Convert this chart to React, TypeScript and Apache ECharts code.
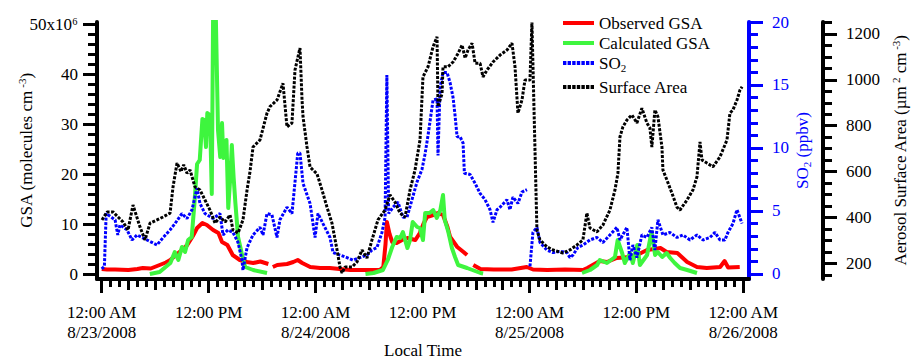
import React, { useEffect, useRef } from 'react';
import * as echarts from 'echarts';

// ---------- data (x = hours since 8/23/2008 00:00 local time) ----------
const xTickHours = [0, 12, 24, 36, 48, 60, 72];
const xTickLabels = [
  '12:00 AM\n8/23/2008', '12:00 PM', '12:00 AM\n8/24/2008', '12:00 PM',
  '12:00 AM\n8/25/2008', '12:00 PM', '12:00 AM\n8/26/2008',
];
const gsaTicks = [0, 10, 20, 30, 40, 50];
const gsaTickLabels = ['0', '10', '20', '30', '40', '50x10⁶'];
const so2Ticks = [0, 5, 10, 15, 20];
const areaTicks = [200, 400, 600, 800, 1000, 1200];

// Observed GSA (10^6 molecules cm^-3)
const observedGSA: [number, number | null][] = [
  [0.0, 1.0], [0.6, 0.9], [1.5, 0.9], [3.0, 0.8], [4.0, 1.0], [4.6, 1.2], [5.5, 1.1], [6.5, 1.8],
  [7.2, 2.3], [7.7, 2.8], [8.2, 3.6], [9.0, 4.8], [9.6, 5.8], [10.2, 7.5], [10.7, 9.2], [11.3, 10.2],
  [11.8, 9.8], [12.5, 8.8], [13.1, 8.2], [13.5, 6.4], [14.1, 5.8], [14.7, 3.8], [15.5, 2.8], [16.3, 2.4],
  [17.0, 2.2], [17.8, 2.5], [18.7, 2.0], [18.9, null], [19.2, 1.4], [19.7, 1.8], [20.8, 2.0], [21.5, 2.4],
  [22.0, 2.8], [22.5, 2.2], [23.4, 1.4], [24.5, 1.2], [25.6, 1.2], [26.7, 1.0], [27.9, 0.8], [29.0, 0.8],
  [30.3, 0.8], [31.2, 0.8], [31.6, 1.4], [31.85, 6.0], [32.0, 10.4], [32.3, 8.0], [32.6, 6.4], [33.1, 6.2],
  [33.7, 6.8], [34.3, 7.2], [35.2, 6.8], [35.7, 8.2], [36.1, 10.0], [36.5, 11.4], [37.2, 11.8], [37.7, 12.2],
  [38.3, 11.8], [38.8, 9.4], [39.1, 7.4], [39.9, 5.4], [40.6, 4.4], [41.0, 3.8], [41.3, null], [41.7, 1.8],
  [42.5, 1.0], [44.0, 0.9], [46.0, 0.9], [47.7, 1.4], [48.4, 0.9], [50.0, 0.8], [52.0, 0.9], [54.0, 0.8],
  [54.5, 1.2], [55.1, 1.8], [55.9, 2.6], [56.7, 2.4], [57.8, 3.2], [59.3, 3.4], [60.3, 4.0], [61.2, 4.8],
  [62.0, 5.0], [62.7, 5.2], [63.4, 4.4], [64.6, 4.2], [65.7, 2.4], [66.8, 1.4], [67.9, 1.2], [69.4, 1.4],
  [69.9, 2.6], [70.3, 1.3], [71.6, 1.4],
];

// Calculated GSA (10^6 molecules cm^-3)
const calculatedGSA: [number, number | null][] = [
  [5.4, 0.0], [6.5, 0.4], [7.7, 2.2], [8.2, 4.4], [8.6, 2.8], [9.0, 5.4], [9.35, 4.4], [9.7, 6.8],
  [10.1, 7.4], [10.4, 14.0], [10.7, 22.0], [11.0, 22.8], [11.3, 31.0], [11.5, 30.8], [11.7, 25.4], [11.85, 32.2],
  [12.15, 31.8], [12.35, 16.0], [12.5, 52.0], [12.8, 52.0], [13.05, 28.8], [13.3, 23.4], [13.5, 30.2], [13.65, 23.2],
  [14.0, 26.8], [14.2, 13.2], [14.45, 20.0], [14.6, 25.8], [14.8, 19.4], [15.0, 14.2], [15.3, 7.4], [15.7, 4.2],
  [16.1, 1.4], [17.0, 0.8], [18.55, 0.2], [19.0, null],
  [29.6, 0.0], [30.5, 0.2], [31.56, 0.8], [32.1, 2.8], [32.6, 5.4], [33.1, 7.4], [33.5, 7.2], [33.8, 8.4],
  [34.3, 5.2], [34.6, 6.8], [34.9, 10.4], [35.4, 9.4], [35.7, 9.2], [36.05, 6.8], [36.3, 12.2], [36.8, 12.2],
  [37.2, 12.8], [37.6, 11.2], [38.0, 12.8], [38.3, 15.8], [38.5, 10.8], [38.9, 8.4], [39.3, 5.2], [39.65, 3.4],
  [40.0, 1.8], [41.0, 1.2], [42.5, 0.2], [42.8, 0.1], [43.0, null],
  [53.9, 0.2], [54.8, 0.8], [55.6, 1.8], [55.9, 2.8], [56.7, 2.2], [57.6, 3.4], [57.9, 6.8], [58.4, 4.2],
  [58.7, 2.2], [59.3, 4.2], [59.6, 2.2], [60.1, 5.8], [60.4, 1.8], [61.2, 3.8], [61.7, 8.4], [62.1, 3.8],
  [62.4, 4.4], [62.9, 3.4], [63.4, 4.2], [63.8, 3.2], [64.3, 2.2], [64.9, 1.2], [65.7, 0.8], [66.8, 0.2],
];

// SO2 (ppbv)
const so2: [number, number | null][] = [
  [0.0, 0.4], [0.3, 0.6], [0.5, 4.8], [0.9, 4.6], [1.5, 4.3], [1.8, 3.1], [2.05, 3.9], [2.84, 3.5],
  [3.4, 2.7], [3.96, 3.1], [5.08, 2.7], [6.2, 2.3], [6.9, 2.9], [7.67, 3.5], [8.22, 4.0], [9.0, 4.8],
  [9.57, 4.4], [10.13, 5.1], [10.69, 6.8], [11.03, 5.6], [11.59, 4.8], [12.49, 4.4], [13.27, 4.8], [13.61, 3.1],
  [14.17, 3.5], [14.73, 3.3], [15.3, 2.5], [15.74, 1.1], [15.85, 0.3], [16.31, 2.1], [16.98, 3.1], [17.76, 3.7],
  [18.1, 3.1], [18.55, 4.8], [19.1, 4.7], [19.67, 2.9], [20.0, 4.3], [20.79, 5.3], [21.35, 4.8], [21.8, 8.1],
  [22.0, 9.6], [22.25, 9.6], [22.59, 7.2], [23.38, 5.6], [23.94, 2.9], [24.27, 4.8], [24.83, 4.0], [25.62, 2.9],
  [25.96, 1.7], [26.74, 1.5], [27.53, 1.3], [28.2, 1.1], [28.99, 1.3], [29.77, 1.5], [30.33, 1.9], [30.89, 2.1],
  [31.45, 3.3], [31.8, 4.5], [32.0, 15.8], [32.2, 4.8], [32.69, 5.3], [33.25, 5.7], [33.81, 4.5], [34.26, 4.5],
  [34.82, 5.9], [35.38, 7.3], [35.94, 8.3], [36.28, 9.5], [36.62, 11.0], [37.18, 13.8], [37.63, 13.9], [37.74, 9.4],
  [37.97, 14.8], [38.3, 16.0], [38.75, 16.0], [39.09, 15.2], [39.43, 14.0], [39.65, 12.6], [39.88, 10.9], [40.21, 10.9],
  [40.55, 10.4], [40.7, 8.0], [41.34, 7.9], [41.9, 7.2], [42.46, 6.4], [43.02, 5.9], [43.58, 5.1], [43.91, 4.1],
  [44.36, 5.1], [44.7, 5.3], [45.48, 5.9], [45.81, 5.1], [46.15, 6.1], [46.71, 5.6], [47.16, 6.5], [47.72, 6.7],
  [47.9, null], [48.06, 0.6], [48.39, 3.3], [48.84, 3.7], [49.18, 2.5], [49.96, 1.9], [50.64, 1.7], [51.42, 1.8],
  [52.21, 1.7], [52.54, 1.3], [52.88, 1.5], [53.44, 2.1], [54.0, 2.3], [54.79, 2.7], [55.57, 2.9], [56.25, 2.5],
  [57.03, 3.1], [57.82, 3.7], [58.16, 2.7], [58.94, 3.7], [59.28, 1.1], [59.61, 2.3], [60.06, 1.3], [60.62, 3.1],
  [61.18, 2.9], [61.74, 3.7], [62.08, 1.9], [62.42, 4.3], [62.98, 3.1], [63.77, 3.3], [64.55, 2.9], [65.23, 3.1],
  [66.02, 2.7], [66.8, 3.1], [67.47, 2.7], [68.26, 2.9], [68.82, 3.3], [69.38, 2.7], [69.94, 2.7], [70.28, 3.3],
  [70.84, 4.0], [71.29, 5.1], [71.86, 4.0],
];

// Aerosol surface area (um^2 cm^-3)
const surfaceArea: [number, number][] = [
  [0.03, 389], [0.6, 424], [1.27, 424], [1.83, 402], [2.39, 380], [2.95, 345], [3.51, 454], [4.29, 359],
  [4.86, 302], [5.42, 375], [6.2, 389], [6.88, 402], [7.67, 419], [8.0, 533], [8.45, 637], [8.9, 600],
  [9.2, 630], [9.57, 593], [9.91, 607], [10.47, 533], [11.03, 520], [11.59, 476], [12.15, 432], [12.72, 375],
  [13.27, 402], [13.84, 380], [14.4, 411], [14.73, 345], [15.3, 332], [15.85, 389], [16.31, 520], [16.64, 600],
  [16.98, 707], [17.76, 738], [18.55, 855], [18.88, 883], [19.67, 912], [20.34, 985], [20.79, 795], [21.35, 812],
  [21.69, 1043], [22.25, 1139], [22.48, 912], [22.59, 839], [23.04, 707], [23.38, 620], [23.71, 607], [24.16, 590],
  [24.72, 520], [25.28, 445], [25.84, 375], [26.41, 258], [26.74, 184], [26.97, 158], [27.31, 184], [28.09, 184],
  [28.65, 206], [29.21, 258], [29.77, 223], [30.33, 302], [31.0, 389], [31.79, 432], [32.35, 498], [32.91, 467],
  [33.47, 419], [34.04, 402], [34.6, 520], [35.16, 607], [35.72, 738], [36.05, 1013], [36.62, 1057], [37.18, 1144],
  [37.63, 1188], [37.74, 883], [38.19, 940], [38.3, 1057], [38.86, 1057], [39.43, 1078], [39.99, 1115], [40.44, 1152],
  [40.78, 1095], [41.11, 1130], [41.56, 1160], [41.9, 1072], [42.46, 1072], [42.79, 1013], [43.24, 1043], [43.91, 1078],
  [44.7, 1108], [45.48, 1130], [46.04, 1160], [46.38, 1057], [46.71, 855], [47.16, 912], [47.5, 999], [48.06, 999],
  [48.28, 1250], [48.84, 345], [49.18, 302], [49.96, 272], [50.64, 258], [51.76, 245], [52.54, 258], [53.33, 280],
  [54.0, 302], [54.45, 419], [54.79, 354], [55.57, 337], [56.25, 367], [57.03, 432], [57.6, 520], [57.93, 593],
  [58.16, 752], [58.49, 795], [58.94, 825], [59.5, 847], [60.06, 812], [60.62, 876], [61.18, 812], [61.52, 790],
  [61.74, 707], [62.08, 869], [62.42, 839], [62.87, 707], [62.98, 607], [63.43, 563], [63.99, 506], [64.55, 445],
  [64.89, 432], [65.68, 476], [66.35, 520], [66.8, 577], [67.14, 729], [67.36, 651], [67.92, 637], [68.59, 621],
  [69.38, 664], [70.17, 738], [70.5, 855], [70.84, 869], [71.29, 912], [71.63, 956], [71.86, 970],
];

// ---------- styling ----------
const FONT = '"Liberation Serif", "Times New Roman", Times, serif';
const BLACK = '#000000';
const BLUE = '#0000ff';
const RED = '#ff0000';
const GREEN = '#3ef53e';
const X_MIN = -0.53;
const X_MAX = 72.64;

const seq = (a: number, b: number, s: number) => {
  const out: number[] = [];
  for (let v = a; v <= b + 1e-9; v += s) out.push(Math.round(v * 1000) / 1000);
  return out;
};
const hourTicks = seq(0, 72, 1);
const xMidTicks = hourTicks.filter((h) => h % 3 === 0 && h % 12 !== 0);
const xMinorTicks = hourTicks.filter((h) => h % 3 !== 0);
const gsaMinor = seq(0, 50, 2).filter((v) => v % 10 !== 0);
const so2Minor = seq(0, 20, 1).filter((v) => v % 5 !== 0);
const areaMinor = seq(150, 1250, 50).filter((v) => v % 200 !== 0);

const dashIcon = (w: number, h: number, n: number, d: number) => {
  const g = (w - n * d) / (n - 1);
  let p = 'path://';
  for (let i = 0; i < n; i++) {
    const x = +(i * (d + g)).toFixed(3);
    p += `M${x} 0h${d}v${h}h-${d}z`;
  }
  return p;
};

const richFor = (color: string) => ({
  m: { fontSize: 17, fontFamily: FONT, color, lineHeight: 20 },
  s: { fontSize: 11, fontFamily: FONT, color, lineHeight: 8, verticalAlign: 'top' },
  b: { fontSize: 11, fontFamily: FONT, color, lineHeight: 6, verticalAlign: 'bottom' },
});

const tickOnlyY = (min: number, max: number, position: string, offset: number, color: string, values: number[], len: number) => ({
  type: 'value', min, max, position, offset,
  splitLine: { show: false },
  axisLine: { show: false, onZero: false },
  axisLabel: { show: false },
  axisTick: { show: true, inside: false, length: len, customValues: values, lineStyle: { color, width: 3 } },
});

const tickOnlyX = (values: number[], len: number) => ({
  type: 'value', min: X_MIN, max: X_MAX, position: 'bottom',
  splitLine: { show: false },
  axisLine: { show: false, onZero: false },
  axisLabel: { show: false },
  axisTick: { show: true, inside: false, length: len, customValues: values, lineStyle: { color: BLACK, width: 3 } },
});

export default function App() {
  const ref = useRef<HTMLDivElement>(null);
  useEffect(() => {
    if (!ref.current) return;
    const chart = echarts.init(ref.current, null, { renderer: 'svg' });
    const GSA_MIN = -1.0, GSA_MAX = 50.4;
    const SO2_MIN = -0.397, SO2_MAX = 20.0;
    const AREA_MIN = 131.5, AREA_MAX = 1252.3;

    const option: any = {
      animation: false,
      backgroundColor: '#ffffff',
      grid: { left: 97, right: 162, top: 22, bottom: 80, containLabel: false, outerBoundsMode: 'none' },
      legend: [
        {
          data: [
            { name: 'Observed GSA', icon: 'rect' },
            { name: 'Calculated GSA', icon: 'rect' },
            { name: 'SO2', icon: dashIcon(31, 4, 7, 3.4) },
          ],
          orient: 'vertical', left: 563, top: 13, padding: 0, itemGap: 0,
          itemWidth: 31, itemHeight: 4, selectedMode: false,
          itemStyle: { borderWidth: 0 },
          formatter: (n: string) => (n === 'SO2' ? '{m|SO}{b|2}' : `{m|${n}}`),
          textStyle: { fontSize: 17, fontFamily: FONT, color: BLACK, lineHeight: 20, rich: richFor(BLACK) },
        },
        {
          data: [{ name: 'Surface Area', icon: dashIcon(31, 4, 7, 3.4) }],
          orient: 'vertical', left: 563, top: 77, padding: 0, itemGap: 0,
          itemWidth: 31, itemHeight: 4, selectedMode: false,
          itemStyle: { borderWidth: 0 },
          formatter: (n: string) => `{m|${n}}`,
          textStyle: { fontSize: 17, fontFamily: FONT, color: BLACK, lineHeight: 20, rich: richFor(BLACK) },
        },
      ],
      xAxis: [
        {
          type: 'value', min: X_MIN, max: X_MAX, position: 'bottom',
          splitLine: { show: false },
          axisLine: { show: true, onZero: false, lineStyle: { color: BLACK, width: 4 } },
          axisTick: { show: true, inside: false, length: 14, customValues: xTickHours, lineStyle: { color: BLACK, width: 3 } },
          axisLabel: {
            show: true, customValues: xTickHours, margin: 23,
            fontSize: 17, lineHeight: 20, fontFamily: FONT, color: BLACK,
            formatter: (v: number) => xTickLabels[xTickHours.indexOf(Math.round(v))] ?? '',
          },
          name: 'Local Time', nameLocation: 'middle', nameGap: 63, nameMoveOverlap: false,
          nameTextStyle: { fontSize: 17, fontFamily: FONT, color: BLACK },
        },
        tickOnlyX(xMidTicks, 11),
        tickOnlyX(xMinorTicks, 8),
      ],
      yAxis: [
        {
          type: 'value', min: GSA_MIN, max: GSA_MAX, position: 'left', offset: 0,
          splitLine: { show: false },
          axisLine: { show: true, onZero: false, lineStyle: { color: BLACK, width: 4 } },
          axisTick: { show: true, inside: false, length: 14, customValues: gsaTicks, lineStyle: { color: BLACK, width: 3 } },
          axisLabel: {
            show: true, customValues: gsaTicks, margin: 19, fontSize: 17, fontFamily: FONT, color: BLACK,
            formatter: (v: number) => gsaTickLabels[gsaTicks.indexOf(Math.round(v))] ?? '',
          },
          name: '{m|GSA (molecules cm}{s| -3}{m|)}', nameLocation: 'middle', nameGap: 61, nameMoveOverlap: false,
          nameTextStyle: { fontSize: 17, fontFamily: FONT, color: BLACK, rich: richFor(BLACK) },
        },
        tickOnlyY(GSA_MIN, GSA_MAX, 'left', 0, BLACK, gsaMinor, 9),
        {
          type: 'value', min: SO2_MIN, max: SO2_MAX, position: 'right', offset: 0,
          splitLine: { show: false },
          axisLine: { show: true, onZero: false, lineStyle: { color: BLUE, width: 4 } },
          axisTick: { show: true, inside: false, length: 14, customValues: so2Ticks, lineStyle: { color: BLUE, width: 3 } },
          axisLabel: {
            show: true, customValues: so2Ticks, margin: 23, fontSize: 17, fontFamily: FONT, color: BLUE,
            formatter: (v: number) => String(Math.round(v)),
          },
          name: '{m|SO}{b|2}{m| (ppbv)}', nameLocation: 'middle', nameGap: 43, nameMoveOverlap: false,
          nameTextStyle: { fontSize: 17, fontFamily: FONT, color: BLUE, rich: richFor(BLUE) },
        },
        tickOnlyY(SO2_MIN, SO2_MAX, 'right', 0, BLUE, so2Minor, 9),
        {
          type: 'value', min: AREA_MIN, max: AREA_MAX, position: 'right', offset: 74,
          splitLine: { show: false },
          axisLine: { show: true, onZero: false, lineStyle: { color: BLACK, width: 4 } },
          axisTick: { show: true, inside: false, length: 14, customValues: areaTicks, lineStyle: { color: BLACK, width: 3 } },
          axisLabel: {
            show: true, customValues: areaTicks, margin: 23, fontSize: 17, fontFamily: FONT, color: BLACK,
            formatter: (v: number) => String(Math.round(v)),
          },
          name: '{m|Aerosol Surface Area (µm}{s| 2}{m| cm}{s| -3}{m|)}', nameLocation: 'middle', nameGap: 67, nameMoveOverlap: false,
          nameTextStyle: { fontSize: 17, fontFamily: FONT, color: BLACK, rich: richFor(BLACK) },
        },
        tickOnlyY(AREA_MIN, AREA_MAX, 'right', 74, BLACK, areaMinor, 9),
      ],
      series: [
        {
          name: 'Observed GSA', type: 'line', xAxisIndex: 0, yAxisIndex: 0, data: observedGSA,
          symbol: 'none', showSymbol: false, connectNulls: false, color: RED,
          lineStyle: { width: 4, color: RED, join: 'round' },
        },
        {
          name: 'Calculated GSA', type: 'line', xAxisIndex: 0, yAxisIndex: 0, data: calculatedGSA,
          symbol: 'none', showSymbol: false, connectNulls: false, color: GREEN,
          lineStyle: { width: 4, color: GREEN, join: 'round' },
        },
        {
          name: 'SO2', type: 'line', xAxisIndex: 0, yAxisIndex: 2, data: so2,
          symbol: 'none', showSymbol: false, connectNulls: false, color: BLUE,
          lineStyle: { width: 3, color: BLUE, type: [3, 1.5] },
        },
        {
          name: 'Surface Area', type: 'line', xAxisIndex: 0, yAxisIndex: 4, data: surfaceArea,
          symbol: 'none', showSymbol: false, color: BLACK,
          lineStyle: { width: 3, color: BLACK, type: [3, 1.5] },
        },
      ],
    };
    chart.setOption(option);
    return () => chart.dispose();
  }, []);

  return (
    <div
      ref={ref}
      style={{ position: 'fixed', left: 0, top: 0, width: 911, height: 359, background: '#ffffff' }}
    />
  );
}
